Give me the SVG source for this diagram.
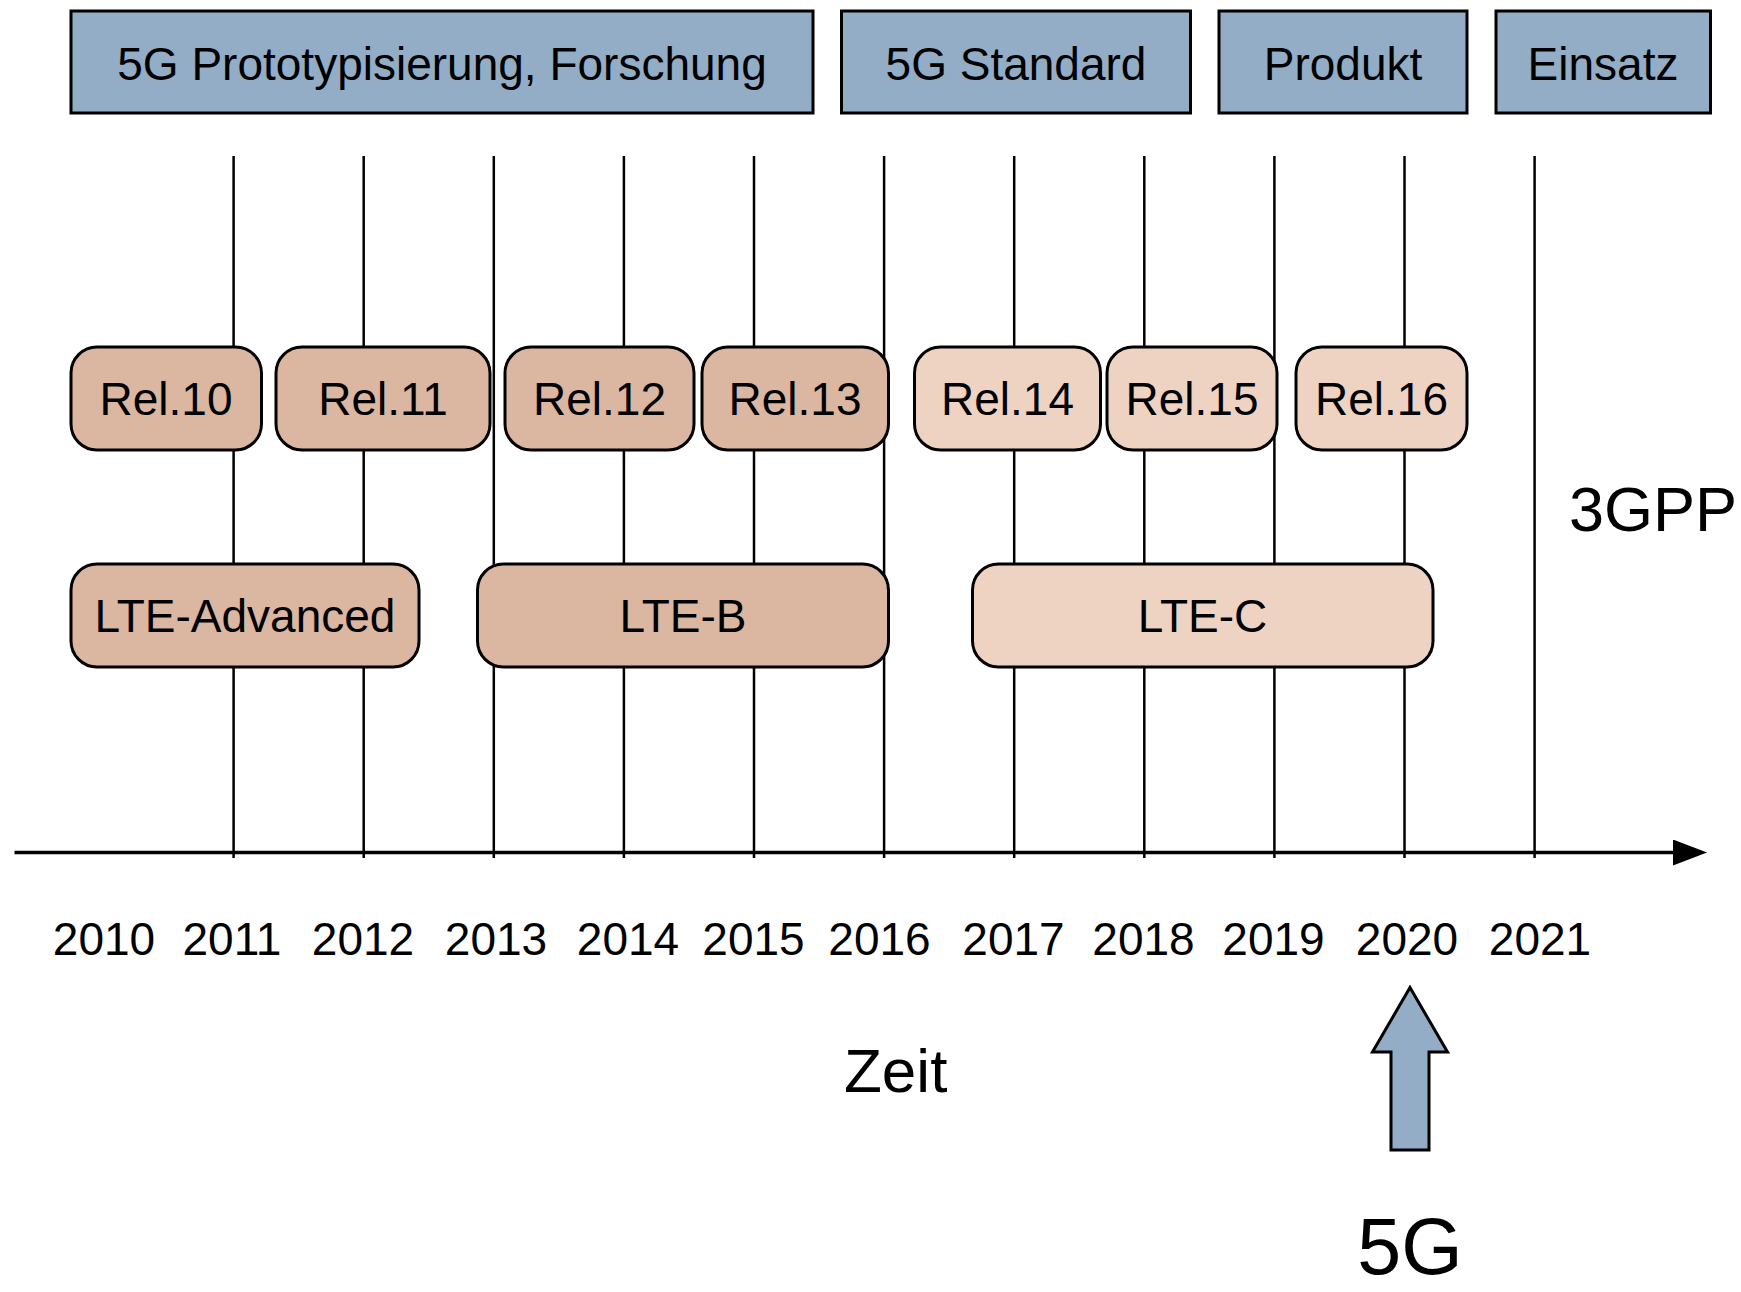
<svg xmlns="http://www.w3.org/2000/svg" width="1741" height="1292" viewBox="0 0 1741 1292">
  <style>
    text { font-family: "Liberation Sans", Arial, Helvetica, sans-serif; fill: #000; }
    .phase { fill: #92ADC5; stroke: #000; stroke-width: 3; }
    .rel-a { fill: #DBB6A0; stroke: #000; stroke-width: 3; }
    .rel-b { fill: #EED3C3; stroke: #000; stroke-width: 3; }
    .grid { stroke: #000; stroke-width: 2.5; fill: none; }
    .axis { stroke: #000; stroke-width: 3.5; fill: none; }
    .lbl { font-size: 46px; text-anchor: middle; }
    .year { font-size: 46px; text-anchor: middle; }
  </style>
  <defs>
    <marker id="axisHead" markerUnits="userSpaceOnUse" markerWidth="36" markerHeight="26" refX="0" refY="13" orient="auto">
      <path d="M0,0 L34,13 L0,26 Z" fill="#000"/>
    </marker>
  </defs>

  <rect width="1741" height="1292" fill="#fff"/>

  <!-- year grid and time axis -->
  <g id="connectors">
    <g id="grid-lines">
      <line class="grid" x1="233.6" y1="156" x2="233.6" y2="858"/>
      <line class="grid" x1="363.7" y1="156" x2="363.7" y2="858"/>
      <line class="grid" x1="493.8" y1="156" x2="493.8" y2="858"/>
      <line class="grid" x1="623.9" y1="156" x2="623.9" y2="858"/>
      <line class="grid" x1="754" y1="156" x2="754" y2="858"/>
      <line class="grid" x1="884.1" y1="156" x2="884.1" y2="858"/>
      <line class="grid" x1="1014.2" y1="156" x2="1014.2" y2="858"/>
      <line class="grid" x1="1144.3" y1="156" x2="1144.3" y2="858"/>
      <line class="grid" x1="1274.4" y1="156" x2="1274.4" y2="858"/>
      <line class="grid" x1="1404.5" y1="156" x2="1404.5" y2="858"/>
      <line class="grid" x1="1534.6" y1="156" x2="1534.6" y2="858"/>
    </g>
    <line id="time-axis" class="axis" x1="14.5" y1="852.5" x2="1673" y2="852.5" marker-end="url(#axisHead)"/>
  </g>

  <!-- phase banners -->
  <g id="phase-research">
    <rect class="phase" x="71" y="11" width="742" height="102"/>
    <text class="lbl" x="442" y="80">5G Prototypisierung, Forschung</text>
  </g>
  <g id="phase-standard">
    <rect class="phase" x="841.5" y="11" width="349" height="102"/>
    <text class="lbl" x="1016" y="80">5G Standard</text>
  </g>
  <g id="phase-product">
    <rect class="phase" x="1219" y="11" width="248" height="102"/>
    <text class="lbl" x="1343" y="80">Produkt</text>
  </g>
  <g id="phase-deployment">
    <rect class="phase" x="1496" y="11" width="214.5" height="102"/>
    <text class="lbl" x="1603" y="80">Einsatz</text>
  </g>

  <!-- 3GPP releases -->
  <g id="rel10">
    <rect class="rel-a" x="71" y="347" width="190.5" height="103" rx="26" ry="26"/>
    <text class="lbl" x="166" y="415">Rel.10</text>
  </g>
  <g id="rel11">
    <rect class="rel-a" x="276" y="347" width="214" height="103" rx="26" ry="26"/>
    <text class="lbl" x="383" y="415">Rel.11</text>
  </g>
  <g id="rel12">
    <rect class="rel-a" x="505" y="347" width="189" height="103" rx="26" ry="26"/>
    <text class="lbl" x="599.5" y="415">Rel.12</text>
  </g>
  <g id="rel13">
    <rect class="rel-a" x="702" y="347" width="186.5" height="103" rx="26" ry="26"/>
    <text class="lbl" x="795" y="415">Rel.13</text>
  </g>
  <g id="rel14">
    <rect class="rel-b" x="914.5" y="347" width="186" height="103" rx="26" ry="26"/>
    <text class="lbl" x="1007.5" y="415">Rel.14</text>
  </g>
  <g id="rel15">
    <rect class="rel-b" x="1107" y="347" width="170" height="103" rx="26" ry="26"/>
    <text class="lbl" x="1192" y="415">Rel.15</text>
  </g>
  <g id="rel16">
    <rect class="rel-b" x="1296" y="347" width="171" height="103" rx="26" ry="26"/>
    <text class="lbl" x="1381.5" y="415">Rel.16</text>
  </g>

  <!-- LTE generations -->
  <g id="lte-advanced">
    <rect class="rel-a" x="71" y="564" width="348" height="103" rx="26" ry="26"/>
    <text class="lbl" x="245" y="631.5">LTE-Advanced</text>
  </g>
  <g id="lte-b">
    <rect class="rel-a" x="477.5" y="564" width="411" height="103" rx="26" ry="26"/>
    <text class="lbl" x="683" y="631.5">LTE-B</text>
  </g>
  <g id="lte-c">
    <rect class="rel-b" x="972.5" y="564" width="460.5" height="103" rx="26" ry="26"/>
    <text class="lbl" x="1202.5" y="631.5">LTE-C</text>
  </g>

  <!-- year labels -->
  <g id="years">
    <text class="year" x="104" y="955">2010</text>
    <text class="year" x="232" y="955">2011</text>
    <text class="year" x="363" y="955">2012</text>
    <text class="year" x="496" y="955">2013</text>
    <text class="year" x="628" y="955">2014</text>
    <text class="year" x="753.5" y="955">2015</text>
    <text class="year" x="879.5" y="955">2016</text>
    <text class="year" x="1013.5" y="955">2017</text>
    <text class="year" x="1143.5" y="955">2018</text>
    <text class="year" x="1273.5" y="955">2019</text>
    <text class="year" x="1407" y="955">2020</text>
    <text class="year" x="1540" y="955">2021</text>
  </g>

  <g id="axis-title">
    <text x="844" y="1092" font-size="62">Zeit</text>
  </g>

  <g id="label-3gpp">
    <text x="1569" y="531" font-size="63">3GPP</text>
  </g>

  <!-- 5G launch marker -->
  <g id="launch-5g">
    <path d="M1410,987.5 L1447.5,1052 L1429,1052 L1429,1150 L1391,1150 L1391,1052 L1372.5,1052 Z" fill="#92ADC5" stroke="#000" stroke-width="3" stroke-linejoin="miter"/>
    <text x="1410" y="1274" font-size="79" text-anchor="middle">5G</text>
  </g>
</svg>
